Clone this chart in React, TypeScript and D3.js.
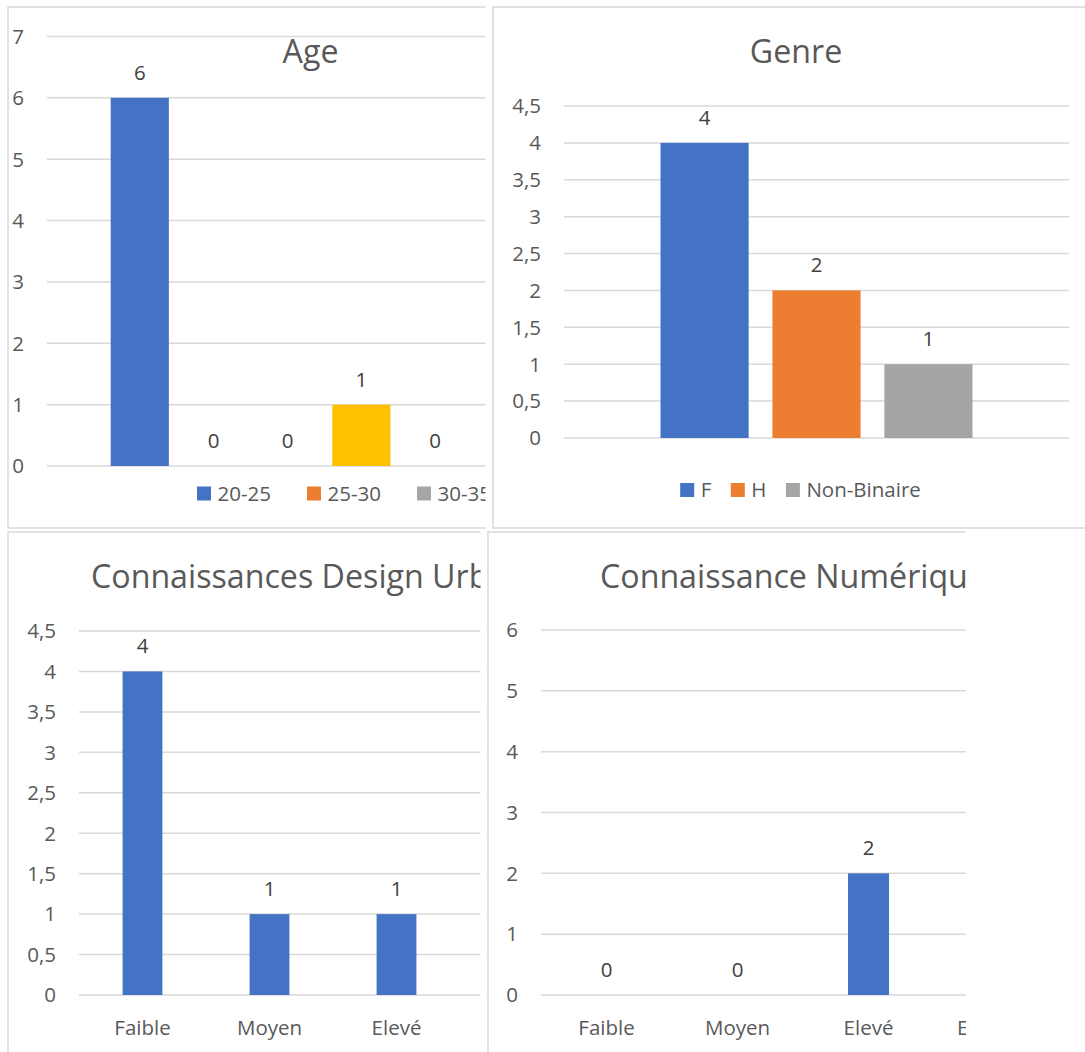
import React from "react";
import * as d3 from "d3";

// ---------- data ----------
const ageSeries = ["20-25", "25-30", "30-35", "35-40", "40-45"];
const ageValues = [6, 0, 0, 1, 0];
const ageTicks = [0, 1, 2, 3, 4, 5, 6, 7];

const genreSeries = ["F", "H", "Non-Binaire"];
const genreValues = [4, 2, 1];
const genreTicks = [0, 0.5, 1, 1.5, 2, 2.5, 3, 3.5, 4, 4.5];

const levelCategories = ["Faible", "Moyen", "Elevé", "Excellent"];
const designValues = [4, 1, 1, 1];
const designTicks = [0, 0.5, 1, 1.5, 2, 2.5, 3, 3.5, 4, 4.5];
const numValues = [0, 0, 2, 5];
const numTicks = [0, 1, 2, 3, 4, 5, 6];

const titles = ["Age", "Genre", "Connaissances Design Urbain", "Connaissance Numérique"];
const officeColors = ["#4472C4", "#ED7D31", "#A5A5A5", "#FFC000", "#5B9BD5", "#70AD47"];

// ---------- style ----------
const FONT = "'Open Sans', 'Noto Sans', sans-serif";
const GRID = "#D9D9D9";
const TXT = "#595959";
const VAL = "#404040";
const TICK_FS = 20.5;
const TITLE_FS = 32.2;

const fr = d3.formatLocale({ decimal: ",", thousands: " ", grouping: [3], currency: ["", "€"] });
const fmt = fr.format("~g");

function measure(text: string, size: number) {
  if (typeof document === "undefined") return text.length * size * 0.55;
  const c = document.createElement("canvas");
  const ctx = c.getContext("2d");
  if (!ctx) return text.length * size * 0.55;
  ctx.font = `${size}px 'Open Sans'`;
  return ctx.measureText(text).width;
}

type Panel = {
  id: string;
  box: [number, number, number, number]; // x, y, w, h of frame
  clipRight: number;
  plotX: [number, number];
  plotY: [number, number]; // [y of 0, y of max]
  yMax: number;
};

const panels: Panel[] = [
  { id: "p1", box: [8, 7, 620, 521], clipRight: 485.5, plotX: [47, 528], plotY: [466, 36.5], yMax: 7 },
  { id: "p2", box: [493, 7, 700, 521], clipRight: 1085, plotX: [564, 1069], plotY: [438, 106], yMax: 4.5 },
  { id: "p3", box: [8, 532, 620, 620], clipRight: 480.5, plotX: [79, 587], plotY: [995, 631], yMax: 4.5 },
  { id: "p4", box: [488, 532, 620, 620], clipRight: 966, plotX: [541, 1065], plotY: [995, 630], yMax: 6 },
];

function Frame({ p }: { p: Panel }) {
  const [x, y, w, h] = p.box;
  return <rect x={x} y={y} width={w} height={h} fill="#fff" stroke={GRID} strokeWidth={1.5} />;
}

function YAxis({ p, ticks, y }: { p: Panel; ticks: number[]; y: d3.ScaleLinear<number, number> }) {
  return (
    <g>
      {ticks.map((t) => (
        <g key={t}>
          <line x1={p.plotX[0]} x2={p.plotX[1]} y1={y(t)} y2={y(t)} stroke={GRID} strokeWidth={1.5} />
          <text x={p.plotX[0] - 23} y={y(t) + 7.3} textAnchor="end" fontSize={TICK_FS} fill={TXT}>
            {fmt(t)}
          </text>
        </g>
      ))}
    </g>
  );
}

function ClusterPanel({ p, series, values, ticks, title, titleX, legendStep, legendX, legendY }: any) {
  const y = d3.scaleLinear().domain([0, p.yMax]).range(p.plotY);
  const x = d3
    .scaleBand<string>()
    .domain(series)
    .range(p.plotX)
    .paddingInner(0.27 / 1.27)
    .paddingOuter(1.095 / 1.27);
  const color = d3.scaleOrdinal<string, string>().domain(series).range(officeColors);
  // legend positions
  let cursor = legendX;
  const items = series.map((s: string) => {
    const w = measure(s, TICK_FS);
    const it = { s, x: cursor, w };
    cursor += legendStep ? legendStep : 14 + 6.5 + w + 19.5;
    return it;
  });
  let shift = 0;
  if (!legendStep) {
    const total = cursor - 19.5 - legendX;
    shift = -total / 2;
  }
  return (
    <g clipPath={`url(#clip-${p.id})`}>
      <Frame p={p} />
      <text x={titleX} y={62.5} textAnchor="middle" fontSize={TITLE_FS} fill={TXT}>
        {title}
      </text>
      <YAxis p={p} ticks={ticks} y={y} />
      {series.map((s: string, i: number) => (
        <g key={s}>
          <rect x={x(s)} y={y(values[i])} width={x.bandwidth()} height={y(0) - y(values[i])} fill={color(s)} />
          <text x={(x(s) as number) + x.bandwidth() / 2} y={y(values[i]) - 18} textAnchor="middle" fontSize={TICK_FS} fill={VAL}>
            {values[i]}
          </text>
        </g>
      ))}
      {items.map((it: any) => (
        <g key={it.s} transform={`translate(${it.x + shift},${legendY})`}>
          <rect x={0} y={-7} width={14} height={14} fill={color(it.s)} />
          <text x={20.5} y={7.3} fontSize={TICK_FS} fill={TXT}>
            {it.s}
          </text>
        </g>
      ))}
    </g>
  );
}

function CategoryPanel({ p, cats, values, ticks, title, titleX }: any) {
  const y = d3.scaleLinear().domain([0, p.yMax]).range(p.plotY);
  const x = d3
    .scaleBand<string>()
    .domain(cats)
    .range(p.plotX)
    .paddingInner(2.19 / 3.19)
    .paddingOuter(2.19 / 3.19 / 2);
  return (
    <g clipPath={`url(#clip-${p.id})`}>
      <Frame p={p} />
      <text x={titleX} y={588} textAnchor="start" fontSize={TITLE_FS} fill={TXT}>
        {title}
      </text>
      <YAxis p={p} ticks={ticks} y={y} />
      {cats.map((c: string, i: number) => {
        const cx = (x(c) as number) + x.bandwidth() / 2;
        return (
          <g key={c}>
            <rect x={x(c)} y={y(values[i])} width={x.bandwidth()} height={y(0) - y(values[i])} fill={officeColors[0]} />
            <text x={cx} y={y(values[i]) - 18} textAnchor="middle" fontSize={TICK_FS} fill={VAL}>
              {values[i]}
            </text>
            <text x={cx} y={1034.5} textAnchor="middle" fontSize={TICK_FS} fill={TXT}>
              {c}
            </text>
          </g>
        );
      })}
    </g>
  );
}

export default function App() {
  return (
    <svg
      width={1085}
      height={1052}
      style={{ position: "absolute", left: 0, top: 0, background: "#fff" }}
      fontFamily={FONT}
    >
      <defs>
        {panels.map((p) => (
          <clipPath id={`clip-${p.id}`} key={p.id}>
            <rect x={p.box[0] - 2} y={p.box[1] - 2} width={p.clipRight - p.box[0] + 2} height={p.box[3] + 4} />
          </clipPath>
        ))}
      </defs>
      <rect x={0} y={0} width={1085} height={1052} fill="#fff" />
      <ClusterPanel
        p={panels[0]}
        series={ageSeries}
        values={ageValues}
        ticks={ageTicks}
        title={titles[0]}
        titleX={310.5}
        legendStep={110}
        legendX={197}
        legendY={493.5}
      />
      <ClusterPanel
        p={panels[1]}
        series={genreSeries}
        values={genreValues}
        ticks={genreTicks}
        title={titles[1]}
        titleX={796}
        legendStep={0}
        legendX={800.5}
        legendY={490}
      />
      <CategoryPanel p={panels[2]} cats={levelCategories} values={designValues} ticks={designTicks} title={titles[2]} titleX={91} />
      <CategoryPanel p={panels[3]} cats={levelCategories} values={numValues} ticks={numTicks} title={titles[3]} titleX={600} />
    </svg>
  );
}
